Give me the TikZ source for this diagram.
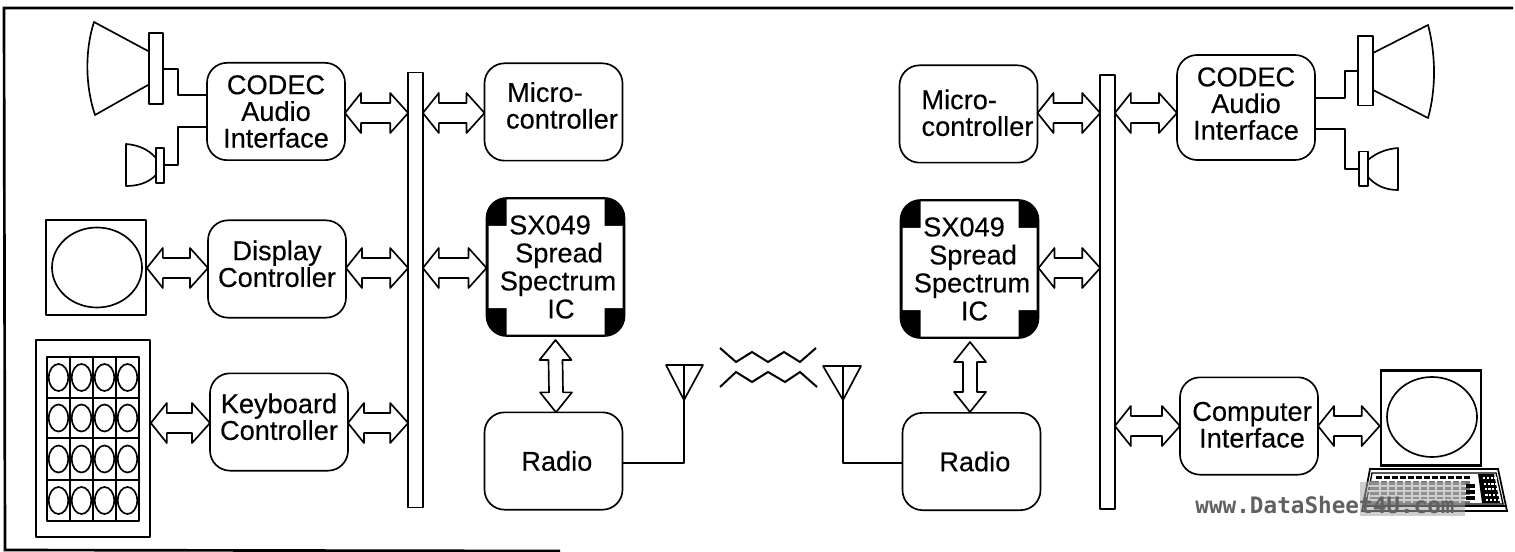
\documentclass[tikz,border=0pt]{standalone}
\usepackage{fontspec}
\setmainfont{Liberation Sans}[FakeBold=0.25]
\newfontfamily\wmfont{DejaVu Sans Mono}[BoldFont={DejaVu Sans Mono Bold}]
\usetikzlibrary{calc}
\newcommand\shifted[2]{\makebox[0pt]{\hspace*{#1}#2}}
\newcommand\up[1]{\rule[-#1]{0pt}{#1}}
\tikzset{
  ln/.style={line width=1.25pt,line join=round},
  box/.style={ln,draw,fill=white,rounded corners=15pt,align=center,inner sep=0pt,outer sep=0pt,
    minimum width=103.5pt,minimum height=73pt,font=\fontsize{20.4}{20}\selectfont},
  chip/.style={box,minimum height=103.5pt,fill=black,font=\fontsize{20.4}{21}\selectfont,
    path picture={\fill[white,sharp corners]
      ($(path picture bounding box.north west)+(15pt,-1pt)$) -- ($(path picture bounding box.north east)+(-15pt,-1pt)$)
      -- ($(path picture bounding box.north east)+(-15pt,-21pt)$) -- ($(path picture bounding box.north east)+(-1.5pt,-21pt)$)
      -- ($(path picture bounding box.south east)+(-1.5pt,21pt)$) -- ($(path picture bounding box.south east)+(-15pt,21pt)$)
      -- ($(path picture bounding box.south east)+(-15pt,1pt)$) -- ($(path picture bounding box.south west)+(15pt,1pt)$)
      -- ($(path picture bounding box.south west)+(15pt,21pt)$) -- ($(path picture bounding box.south west)+(1.5pt,21pt)$)
      -- ($(path picture bounding box.north west)+(1.5pt,-21pt)$) -- ($(path picture bounding box.north west)+(15pt,-21pt)$) -- cycle;}},
  busbar/.style={ln,draw,fill=white,inner sep=0pt,outer sep=0pt,minimum width=11pt},
  hbus/.style={ln,draw,fill=white,to path={
    -- ($(\tikztostart)+(16,-20)$) -- ($(\tikztostart)+(16,-10)$)
    -- ($(\tikztotarget)+(-18,-10)$) -- ($(\tikztotarget)+(-18,-20)$)
    -- (\tikztotarget)
    -- ($(\tikztotarget)+(-18,20)$) -- ($(\tikztotarget)+(-18,10)$)
    -- ($(\tikztostart)+(16,10)$) -- ($(\tikztostart)+(16,20)$) -- cycle}},
  vbus/.style={ln,draw,fill=white,to path={
    -- ($(\tikztostart)+(-16,20)$) -- ($(\tikztostart)+(-7,20)$)
    -- ($(\tikztotarget)+(-7,-20)$) -- ($(\tikztotarget)+(-16,-20)$)
    -- (\tikztotarget)
    -- ($(\tikztotarget)+(16,-20)$) -- ($(\tikztotarget)+(7,-20)$)
    -- ($(\tikztostart)+(7,20)$) -- ($(\tikztostart)+(16,20)$) -- cycle}},
  wire/.style={ln,draw},
  wave/.style={line width=1.5pt,line join=miter},
}
\begin{document}
\begin{tikzpicture}[x=0.75pt,y=-0.75pt]
\useasboundingbox (0,0) rectangle (1515,552);
% frame
\draw[line width=2pt] (1513,8) -- (4,8) -- (5,550) -- (560,551);

% buses
\node[busbar,minimum height=326pt] (busL) at (415.5,290) {};
\node[busbar,minimum height=325.5pt] (busR) at (1107.5,292) {};

% left blocks
\node[box] (codecL) at (276,111.5) {CODEC\\Audio\\Interface};
\node[box] (dispL) at (277,269) {Display\\Controller\up{8pt}};
\node[box] (kbdL) at (279,422) {Keyboard\\Controller\up{8pt}};
\node[box] (microL) at (553.5,112) {\shifted{-12.75pt}{Micro-}\\\shifted{12.75pt}{controller}\up{10pt}};
\node[chip] (sxL) at (555.5,267) {\shifted{-8.25pt}{SX049}\\\shifted{5.25pt}{Spread}\\\shifted{3.75pt}{Spectrum}\\\shifted{8.25pt}{IC}};
\node[box] (radioL) at (553.5,461) {\shifted{5pt}{Radio}};

% right blocks
\node[box] (microR) at (968.5,114) {\shifted{-14pt}{Micro-}\\\shifted{13.5pt}{controller}\up{2pt}};
\node[chip] (sxR) at (969.5,269) {\shifted{-8.25pt}{SX049}\\\shifted{5.25pt}{Spread}\\\shifted{3.75pt}{Spectrum}\\\shifted{7.5pt}{IC}};
\node[box] (radioR) at (971.5,461.5) {\shifted{5pt}{Radio}};
\node[box,minimum height=78.75pt] (codecR) at (1246,107.5) {CODEC\\Audio\\Interface\up{6pt}};
\node[box] (compR) at (1249,426) {\shifted{4.5pt}{Computer}\\\shifted{4.5pt}{Interface}\up{2pt}};

% left speakers
\coordinate (spkLa) at (163,69);
\coordinate (spkLb) at (164,165);
\draw[ln,fill=white] (148,51) -- (94,22) .. controls (85,50) and (85,85) .. (95,115) -- (148,85);
\node[ln,draw,fill=white,inner sep=0pt,minimum width=10.5pt,minimum height=53pt] (magLa) at (156,68.5) {};
\draw[ln,fill=white] (156,158) .. controls (148,149) and (138,145) .. (126,144) -- (126,186) .. controls (138,186) and (148,183) .. (156,175);
\node[ln,draw,fill=white,inner sep=0pt,minimum width=6pt,minimum height=26pt] (magLb) at (160,165.5) {};
\draw[wire] (magLa.east |- spkLa) -- (178,69) -- (178,95) -- (codecL.west |- 0,95);
\draw[wire] (magLb.east |- spkLb) -- (178,165) -- (178,127) -- (codecL.west |- 0,127);

% right speakers
\draw[ln,fill=white] (1373,53) -- (1428,25) .. controls (1436,55) and (1436,90) .. (1428,118) -- (1373,90);
\node[ln,draw,fill=white,inner sep=0pt,minimum width=11pt,minimum height=52pt] (magRa) at (1365.5,71) {};
\draw[ln,fill=white] (1368,160) .. controls (1376,153) and (1386,149) .. (1398,148) -- (1398,190) .. controls (1386,190) and (1376,186) .. (1368,177);
\node[ln,draw,fill=white,inner sep=0pt,minimum width=6.5pt,minimum height=26pt] (magRb) at (1363.5,169) {};
\draw[wire] (magRa.west) -- (1345,71) -- (1345,98) -- (codecR.east |- 0,98);
\draw[wire] (magRb.west) -- (1345,169) -- (1345,129) -- (codecR.east |- 0,129);

% display monitor left
\node[ln,draw,fill=white,inner sep=0pt,minimum width=75pt,minimum height=71.5pt] (monL) at (96,267.5) {};
\draw[ln] (monL.center) ++(1,0) ellipse [x radius=45,y radius=40];

% keypad
\node[ln,draw,fill=white,inner sep=0pt,minimum width=85.5pt,minimum height=147.75pt] (pad) at (93,438.5) {};
\draw[ln] (47,357) rectangle (139,521);
\foreach \cx in {70,93,116} \draw[ln] (\cx,357) -- (\cx,521);
\foreach \ry in {398,438,480} \draw[ln] (47,\ry) -- (139,\ry);
\foreach \cx in {58.5,81.5,104.5,127.5}
  \foreach \ry in {377.5,418,459,500.5}
    \draw[ln] (\cx,\ry) ellipse [x radius=9.7,y radius=13.5];

% computer
\node[draw,line width=2pt,fill=white,inner sep=0pt,minimum width=75pt,minimum height=71pt] (monR) at (1431,418) {};
\draw[ln] (monR.center) ++(1,-1) ellipse [x radius=45,y radius=40];
\draw[line width=1.3pt,fill=white,line join=miter] (1370,469) -- (1498,469) -- (1507,511) -- (1362,511) -- cycle;
\draw[line width=1.6pt] (1363,506) -- (1506,506);
\draw[line width=1pt] (1372,473) -- (1496,473) -- (1503,504) -- (1366,504) -- cycle;
\fill[black] (1478,474) -- (1494,474) -- (1500,503) -- (1482,503) -- cycle;
\foreach \ry in {478,483.5,489,494.5,499.5}
  \foreach \cx in {1,2,3,4}
    \fill[white] ({1478.5+\cx*3.8+(\ry-474)*0.15},\ry-1) rectangle ++(2.2,2);
% keys
\foreach \cx in {1376,1384,...,1464} \fill (\cx,475.5) rectangle ++(6,3);
\fill[black!55] (1370,481) rectangle (1470,503);
\foreach \cx in {1380,1388,...,1464} \draw[white,line width=0.9pt] (\cx,481) -- (\cx,503);
\foreach \ry in {486,491,496,500} \draw[white,line width=0.9pt] (1368,\ry) -- (1470,\ry);
\fill (1466,484) rectangle (1475,488);
\fill (1466,490) rectangle (1475,494);
\fill (1466,496) rectangle (1475,500);
% watermark
\fill[black!35,opacity=.55] (1360,482) rectangle (1465,516);
\node[font=\wmfont\bfseries\fontsize{17}{17}\selectfont,text=black!62,inner sep=0pt] (wm) at (1325,505.5) {www.DataSheet4U.com};

% bus arrows
\draw[hbus] (codecL.east |- 0,113) to (busL.west |- 0,113);
\draw[hbus] (busL.east |- 0,113) to (microL.west |- 0,113);
\draw[hbus] (monL.east |- 0,268) to (dispL.west |- 0,268);
\draw[hbus] (dispL.east |- 0,268) to (busL.west |- 0,268);
\draw[hbus] (busL.east |- 0,268) to (sxL.west |- 0,268);
\draw[hbus] (pad.east |- 0,423) to (kbdL.west |- 0,423);
\draw[hbus] (kbdL.east |- 0,423) to (busL.west |- 0,423);
\draw[vbus] (sxL.south |- 556,340) to (radioL.north -| 556,0);
\draw[hbus] (microR.east |- 0,113) to (busR.west |- 0,113);
\draw[hbus] (busR.east |- 0,113) to (codecR.west |- 0,113);
\draw[hbus] (sxR.east |- 0,268) to (busR.west |- 0,268);
\draw[hbus] (busR.east |- 0,426) to (compR.west |- 0,426);
\draw[hbus] (compR.east |- 0,426) to (monR.west |- 0,426);
\draw[vbus] (970,342) to (970,412);

% antennas
\coordinate (antL) at (684,365);
\coordinate (antR) at (843,366);
\draw[ln] (666,365) -- (703,365) -- (684,400) -- cycle;
\draw[wire] (antL) -- (684,463) -- (radioL.east |- 0,463);
\draw[ln] (823,366) -- (861,366) -- (843,400) -- cycle;
\draw[wire] (antR) -- (843,463) -- (radioR.west |- 0,463);

% waves
\draw[wave] (720,348) -- (736,362) -- (752,352) -- (768,362) -- (784,352) -- (800,362) -- (816,348);
\draw[wave] (720,387) -- (736,372) -- (752,382) -- (768,372) -- (785,382) -- (800,372) -- (817,387);
\end{tikzpicture}
\end{document}
